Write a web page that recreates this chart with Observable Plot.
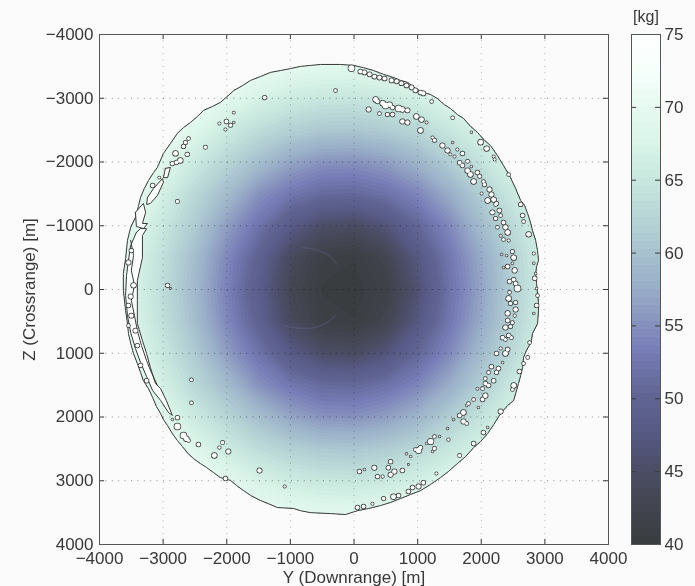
<!DOCTYPE html>
<html><head><meta charset="utf-8">
<script src="https://cdn.jsdelivr.net/npm/d3@7"></script>
<script src="https://cdn.jsdelivr.net/npm/@observablehq/plot@0.6"></script>
<style>
html,body{margin:0;background:#fbfbfb}
#wrap{position:relative;width:695px;height:586px;overflow:hidden}
#wrap svg{position:absolute;top:0;background:transparent;filter:blur(.35px)}
</style></head><body><div id="wrap"></div>
<script>
const axisTicks=[-4000,-3000,-2000,-1000,0,1000,2000,3000,4000];
const massTicks=[40,45,50,55,60,65,70,75];
const colorStops=[40,42.5,45,47.5,50,53,55,57.5,60,62.5,65,67.5,70,72.5,75];
const colorValues=["#3a3d40","#434551","#4c4e68","#575a84","#606594","#777db6","#8893be","#9aafc8","#a9c4d0","#b9d8d6","#c9e9df","#dbf5ea","#e9faf3","#f8fffc","#ffffff"];
// mass [kg] on a 500 m grid, Z from -4000 to 4000, Y from -4000 to 4000
const row0=[75,75,74.8,74.3,73.6,72.9,72.4,72.1,72.0,72.2,72.6,73.3,74.1,74.6,75,75,75];
const row1=[75,74.7,74.0,72.9,71.8,70.5,69.6,69.1,69.0,69.4,70.1,71.2,72.4,73.6,74.4,75,75];
const row2=[74.8,74.0,72.6,70.9,69.2,67.2,65.8,65.0,64.8,65.4,66.6,68.4,70.1,72.0,73.4,74.5,75];
const row3=[74.2,72.7,70.7,68.4,65.7,63.5,61.8,60.8,60.6,61.3,62.7,64.8,67.3,69.9,72.1,73.7,74.7];
const row4=[73.4,71.4,68.8,65.5,62.5,59.6,56.9,55.3,55.1,56.2,58.4,61.4,64.3,67.5,70.4,72.6,74.2];
const row5=[72.5,70.0,66.7,62.8,59.3,55.2,52.6,51.0,50.8,51.9,54.1,57.6,61.6,65.2,68.9,71.7,73.6];
const row6=[71.9,69.0,65.0,61.1,56.2,52.2,48.0,45.2,44.6,46.7,50.5,54.4,59.2,63.2,67.4,70.7,73.1];
const row7=[71.3,68.0,63.9,59.5,54.3,49.6,44.2,41.2,40.6,42.6,47.4,52.6,57.3,62.2,66.4,70.1,72.7];
const row8=[71.1,67.7,63.5,58.9,53.7,48.6,43.2,40.4,40.1,41.4,46.1,52.0,56.7,61.9,66.1,69.9,72.6];
const row9=row7, row10=row6, row11=row5, row12=row4, row13=row3, row14=row2, row15=row1, row16=row0;
const boundaryY=[-370,-210,-10,150,305,465,620,730,840,965,1090,1200,1310,1420,1515,1625,1720,1830,1940,2050,2145,2255,2350,2460,2540,2620,2680,2730,2775,2805,2855,2885,2900,2870,2855,2870,2885,2900,2900,2885,2805,2790,2775,2710,2665,2650,2620,2585,2510,2415,2305,2195,2100,1990,1880,1755,1625,1485,1360,1200,1045,890,730,575,415,230,55,-135,-370,-685,-840,-950,-1205,-1345,-1470,-1625,-1735,-1845,-1940,-2100,-2210,-2320,-2415,-2525,-2620,-2695,-2775,-2855,-2930,-2995,-3040,-3105,-3165,-3230,-3310,-3355,-3405,-3465,-3510,-3545,-3560,-3590,-3625,-3625,-3590,-3560,-3510,-3435,-3385,-3355,-3295,-3230,-3150,-3090,-2995,-2885,-2775,-2680,-2570,-2460,-2365,-2225,-2100,-1990,-1890,-1750,-1625,-1470,-1315,-1155,-1000,-840,-685,-525,-370];
const boundaryZ=[-3530,-3530,-3515,-3480,-3435,-3375,-3325,-3280,-3250,-3155,-3090,-3060,-2995,-2900,-2840,-2745,-2685,-2560,-2465,-2340,-2260,-2100,-1945,-1755,-1585,-1395,-1320,-1190,-1050,-925,-770,-610,-455,-360,-250,-95,65,205,330,535,690,800,845,955,1065,1225,1350,1475,1740,1820,1945,2120,2260,2385,2480,2620,2730,2855,2950,3060,3155,3215,3280,3340,3390,3435,3470,3530,3515,3500,3470,3435,3420,3360,3310,3230,3155,3075,2995,2950,2870,2790,2730,2650,2560,2465,2370,2260,2135,2040,1945,1835,1695,1555,1430,1300,1160,1005,845,690,535,330,15,-250,-485,-770,-975,-1130,-1320,-1445,-1585,-1710,-1835,-1915,-2135,-2290,-2450,-2540,-2620,-2715,-2810,-2870,-2935,-3030,-3120,-3200,-3280,-3340,-3405,-3435,-3465,-3500,-3515,-3530,-3530];
const holeY=[-40,100,165,245,320,400,480,590,670,745,825,905,965,1045,1090,1220,1550,1845,1990,2085,2195,2210,2430,340,370,450,495,560,605,700,760,840,230,400,525,605,760,840,980,1060,1140,1045,1235,1265,1390,1470,1515,1580,1550,1625,1705,1785,1660,1705,1845,1785,1830,1880,1940,1975,2035,2050,2005,2130,2160,2100,2195,2240,2225,2175,2285,2305,2225,2620,2650,2665,2255,2350,2380,2415,2305,2350,2430,2745,2490,2510,2320,2400,2415,2350,2490,2525,2825,2825,2840,2855,2445,2510,2540,2570,2445,2870,2885,2430,2460,2540,2540,2870,2825,2415,2525,2415,2380,2490,2460,2335,2430,2475,2380,2760,2305,2415,2380,2240,2335,2730,2665,2160,2115,2270,2240,2600,2195,2065,2115,2065,2510,2490,2020,2065,1940,2020,1880,1800,1770,1955,1720,1660,2305,1720,1770,1565,1470,2035,2100,1880,1485,1660,1205,1140,1265,1345,1045,1015,965,1265,1235,825,890,575,540,855,320,760,635,575,85,165,370,450,1295,1090,1015,920,855,620,700,465,290,150,55,-2555,-2555,-2775,-2855,-2775,-2680,-2635,-2600,-2445,-2065,-2115,-1975,-2195,-1485,-2020,-1090,-1405,-1890,-2115,-2005,-1940,-1890,-2020,-2335,-2775,-2930,-2885,-290,-2805,-2620,-2730,-2855,-2790,-2680,-2650,-2600,-3060,-3165,-3545,-3500,-3465,-3510,-3545,-3500,-3545,-3435,-3405,-3355,-3260];
const holeZ=[-3470,-3420,-3405,-3375,-3340,-3325,-3310,-3280,-3265,-3235,-3200,-3170,-3125,-3090,-3075,-2950,-2695,-2465,-2310,-2210,-2085,-2040,-1805,-2980,-2950,-2920,-2885,-2900,-2855,-2840,-2825,-2810,-2825,-2760,-2745,-2745,-2635,-2620,-2715,-2665,-2620,-2495,-2385,-2340,-2260,-2180,-2120,-2085,-2305,-2195,-2135,-2010,-1990,-1945,-1930,-1865,-1805,-1695,-1835,-1775,-1695,-1645,-1505,-1570,-1490,-1395,-1410,-1350,-1335,-1210,-1240,-1160,-1115,-1335,-1160,-1065,-975,-1050,-975,-895,-845,-785,-770,-865,-595,-500,-550,-535,-360,-345,-410,-300,-565,-410,-175,-250,-125,-155,-95,-15,45,-15,95,140,220,205,315,250,375,375,410,485,595,520,580,755,720,755,785,830,925,940,1005,1005,1145,1065,1160,1210,1300,1240,1300,1285,1430,1395,1505,1475,1505,1570,1555,1665,1555,1725,1725,1790,1820,1850,1930,1975,1915,2070,2100,2040,2180,2245,2165,2415,2355,2605,2385,2415,2305,2305,2480,2525,2510,2495,2540,2575,2620,2700,2795,2745,2795,2840,2855,2905,2855,2825,2935,2935,2885,3030,3090,3105,3170,3250,3230,3280,3360,3405,3420,1775,1415,2010,2040,2150,2290,2340,2370,2430,2400,2480,2540,2605,2840,2965,3090,-3010,-2775,-2605,-2635,-2575,-2620,-2510,-2230,-1380,-65,-15,-3120,-2135,-2120,-2025,-1975,-1995,-2245,-2305,-2370,-1755,-1630,-425,-610,-65,110,250,410,565,645,880,1190,1430];
const holeR=[47,33,33,33,33,33,33,33,33,33,33,33,33,33,33,24,24,16,39,39,19,19,24,39,31,39,47,39,31,47,39,35,35,24,28,31,36,35,39,39,19,39,20,28,36,36,19,19,16,20,31,27,31,31,16,39,39,39,31,28,24,28,19,35,35,39,39,28,24,35,31,24,28,31,31,24,24,31,36,39,19,24,20,39,28,39,16,16,31,16,16,36,20,16,31,16,31,31,31,47,24,16,24,39,28,28,36,31,16,36,20,31,36,24,28,31,31,24,24,24,20,31,39,31,16,24,24,31,24,31,28,31,31,24,31,31,39,24,24,36,19,31,24,24,16,16,39,31,35,36,24,16,16,31,16,31,22,27,44,16,24,16,31,42,24,27,16,16,16,31,31,11,35,31,36,36,31,16,31,20,20,31,35,31,31,39,31,28,20,31,31,24,24,31,16,47,47,39,24,31,27,22,35,39,35,31,20,31,19,20,31,28,16,20,27,27,31,11,24,39,31,39,30,30,30,28,24,19,31,35,31,39,35,31,35,24,35,31,31,31];
const laneY=[-3420,-3510,-3545,-3575,-3590,-3560,-3510,-3435,-3355,-3260,-3165,-3040,-2915,-2855,-2950,-3040,-3120,-3200,-3260,-3325,-3405,-3405,-3405,-3325,-3325,-3260,-3355,-3420];
const laneZ=[-895,-690,-455,-220,95,410,675,925,1145,1365,1585,1740,1930,1975,1740,1555,1475,1225,1005,800,535,175,-140,-500,-845,-955,-955,-895];
const squiggleY=[-3510,-3465,-3500,-3450,-3500,-3450,-3405,-3340,-3260,-3185,-3090];
const squiggleZ=[-770,-535,-300,-65,170,410,645,880,1115,1300,1505];
const sliverAY=[-3245,-3150,-3010,-2995,-3090,-3200,-3260,-3245];
const sliverAZ=[-1445,-1585,-1740,-1680,-1475,-1350,-1335,-1445];
const sliverBY=[-3435,-3310,-3275,-3325,-3245,-3310,-3420,-3435];
const sliverBZ=[-1210,-1350,-1210,-1035,-1035,-955,-990,-1210];
const sliverCY=[-2965,-2885,-2930,-2995,-2965];
const sliverCZ=[-1900,-1915,-1755,-1755,-1900];
const arcAY=[-810,-575,-370,-275], arcAZ=[-660,-630,-530,-405];
const arcBY=[-1110,-795,-480,-290], arcBZ=[565,630,580,410];

const massGrid=[row0,row1,row2,row3,row4,row5,row6,row7,row8,row9,row10,row11,row12,row13,row14,row15,row16].flat();
const levels=d3.range(64).map(i=>40+i*35/64);
const colorScale={type:"linear",domain:colorStops,range:colorValues,interpolate:"rgb",clamp:true};
const font="'Liberation Sans',Arial,sans-serif";
const ink="#383838", size=17;
const plain=d=>String(d).replace("-","\u2212");
const ring=boundaryY.map((y,i)=>[y,boundaryZ[i]]);

const outline=(ys,zs,opts)=>Plot.line(ys,{x:ys,y:zs,stroke:ink,strokeWidth:1,...opts});
const main=Plot.plot({
  width:695,height:586,marginLeft:99,marginRight:87,marginTop:34,marginBottom:42,
  style:{fontFamily:font,fontSize:size+"px",color:ink,background:"transparent"},
  x:{domain:[-4000,4000]},
  y:{domain:[4000,-4000]},
  color:colorScale,
  r:{type:"linear",domain:[0,1000],range:[0,63.6]},
  marks:[
    Plot.contour(massGrid,{width:17,height:17,x1:-4250,x2:4250,y1:-4250,y2:4250,value:d=>d,fill:"value",thresholds:levels,stroke:"none",
      clip:{type:"Polygon",coordinates:[ring]}}),
    Plot.line(arcAY,{x:arcAY,y:arcAZ,stroke:"#62668c",strokeWidth:1.5,strokeOpacity:.35,curve:"basis"}),
    Plot.line(arcBY,{x:arcBY,y:arcBZ,stroke:"#62668c",strokeWidth:1.5,strokeOpacity:.35,curve:"basis"}),
    Plot.ruleX(axisTicks.slice(1,-1),{stroke:"#000",strokeOpacity:.3,strokeDasharray:"1 5.4"}),
    Plot.ruleY(axisTicks.slice(1,-1),{stroke:"#000",strokeOpacity:.45,strokeDasharray:"1 5.4"}),
    outline(boundaryY,boundaryZ,{}),
    outline(laneY,laneZ,{fill:"#fdfffe"}),
    outline(squiggleY,squiggleZ,{}),
    outline(sliverAY,sliverAZ,{fill:"#fdfffe"}),
    outline(sliverBY,sliverBZ,{fill:"#fdfffe"}),
    outline(sliverCY,sliverCZ,{fill:"#fdfffe"}),
    Plot.dot(holeY,{x:holeY,y:holeZ,r:holeR,stroke:ink,strokeWidth:1.5,fill:"none"}),
    Plot.dot(holeY,{x:holeY,y:holeZ,r:holeR,fill:"#fdfdfd",stroke:"none"}),
    Plot.ruleX(axisTicks,{y1:4000,y2:3920,stroke:ink}),
    Plot.ruleX(axisTicks,{y1:-4000,y2:-3920,stroke:ink}),
    Plot.ruleY(axisTicks,{x1:-4000,x2:-3920,stroke:ink}),
    Plot.ruleY(axisTicks,{x1:4000,x2:3920,stroke:ink}),
    Plot.frame({stroke:"#555"}),
    Plot.axisX(axisTicks,{anchor:"bottom",tickSize:0,tickPadding:7,tickFormat:plain,label:"Y (Downrange) [m]",labelAnchor:"center",labelArrow:"none",labelOffset:38,fontSize:size}),
    Plot.axisY(axisTicks,{anchor:"left",tickSize:0,tickPadding:6,tickFormat:plain,label:"Z (Crossrange) [m]",labelAnchor:"center",labelArrow:"none",labelOffset:77,fontSize:size})
  ]
});
main.style.left="0";
const bar=Plot.plot({
  width:85,height:586,marginLeft:21,marginRight:35,marginTop:34,marginBottom:42,
  style:{fontFamily:font,fontSize:size+"px",color:ink,background:"transparent"},
  x:{domain:[0,1],axis:null},
  y:{domain:[40,75]},
  color:colorScale,
  marks:[
    Plot.rect(levels,{x1:0,x2:1,y1:d=>d,y2:d=>d+35/64,fill:d=>d,shapeRendering:"crispEdges"}),
    Plot.ruleY(massTicks,{x1:0,x2:.17,stroke:ink}),
    Plot.ruleY(massTicks,{x1:.83,x2:1,stroke:ink}),
    Plot.frame({stroke:"#555"}),
    Plot.axisY(massTicks,{anchor:"right",tickSize:0,tickPadding:4,label:null,fontSize:size}),
    Plot.text(["[kg]"],{x:.5,y:75,dy:-18,fontSize:16,fill:ink})
  ]
});
bar.style.left="610px";
document.getElementById("wrap").append(main,bar);
</script></body></html>
